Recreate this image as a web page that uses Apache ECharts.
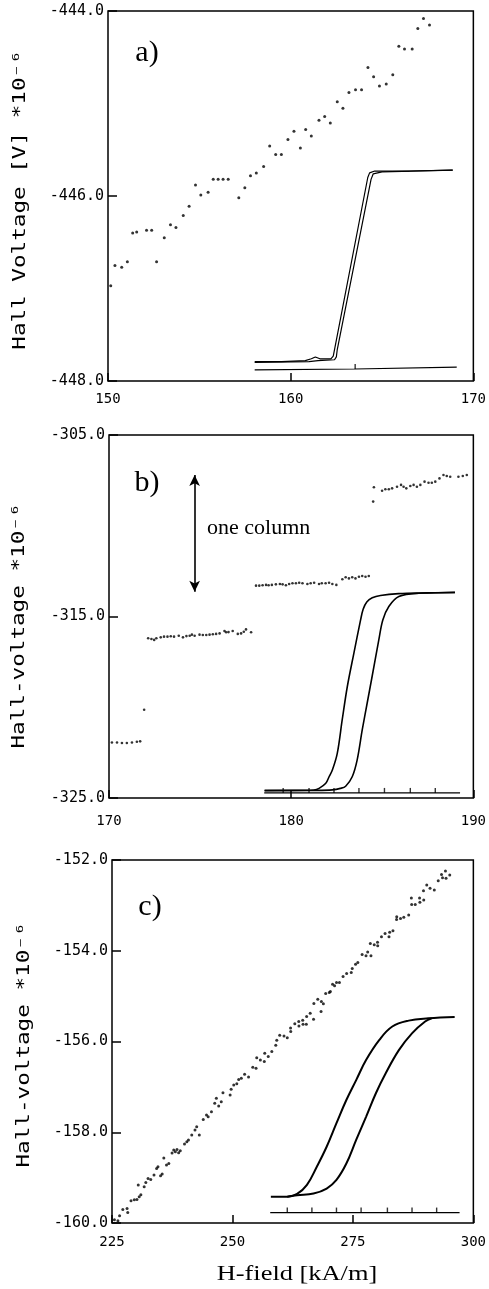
<!DOCTYPE html>
<html>
<head>
<meta charset="utf-8">
<script src="https://cdn.jsdelivr.net/npm/echarts@6/dist/echarts.min.js"></script>
<style>
html,body{margin:0;padding:0;background:#fff;}
#chart{width:489px;height:1289px;}
</style>
</head>
<body>
<div id="chart"></div>
<script>
// ---------------- DATA ----------------
// Panel a) : H-field [kA/m] vs Hall voltage [V]*1e-6
const aXTicks = [150, 160, 170];
const aYTicks = [-448, -446, -444];
const aPoints = [
  [150.15,-446.97],[150.38,-446.75],[150.75,-446.77],[151.06,-446.71],[151.35,-446.40],[151.57,-446.39],
  [152.11,-446.37],[152.39,-446.37],[152.66,-446.71],[153.08,-446.45],[153.42,-446.31],[153.72,-446.34],
  [154.12,-446.21],[154.44,-446.11],[154.79,-445.88],[155.08,-445.99],[155.48,-445.96],[155.76,-445.82],
  [156.03,-445.82],[156.30,-445.82],[156.58,-445.82],[157.16,-446.02],[157.49,-445.91],[157.80,-445.78],
  [158.12,-445.75],[158.52,-445.68],[158.85,-445.46],[159.18,-445.55],[159.49,-445.55],[159.85,-445.39],
  [160.18,-445.30],[160.53,-445.48],[160.82,-445.28],[161.13,-445.35],[161.55,-445.18],[161.86,-445.14],
  [162.17,-445.21],[162.55,-444.98],[162.86,-445.05],[163.19,-444.88],[163.55,-444.85],[163.88,-444.85],
  [164.23,-444.61],[164.54,-444.71],[164.86,-444.81],[165.23,-444.79],[165.59,-444.69],[165.92,-444.38],
  [166.23,-444.41],[166.65,-444.41],[166.96,-444.19],[167.27,-444.08],[167.60,-444.15]
];
const aLoopUp = [
  [158.03,-447.79],[159.5,-447.79],[160.8,-447.78],[161.13,-447.76],[161.35,-447.74],[161.6,-447.76],
  [162.2,-447.76],[162.33,-447.73],[162.40,-447.66],[164.22,-445.80],[164.32,-445.75],[164.6,-445.73],
  [166.5,-445.73],[168.87,-445.72]
];
const aLoopDown = [
  [158.03,-447.80],[161.0,-447.79],[161.5,-447.78],[162.4,-447.77],[162.50,-447.74],[162.55,-447.66],
  [164.40,-445.82],[164.52,-445.76],[165.0,-445.74],[168.87,-445.72]
];
const aInsetAxis = [[158.03,-447.88],[163.5,-447.87],[169.09,-447.85]];
const aInsetTicks = [[163.53,-447.87]];

// Panel b)
const bXTicks = [170, 180, 190];
const bYTicks = [-325, -315, -305];
const bColumn1 = [
  [170.16,-321.94],[170.44,-321.94],[170.71,-321.97],[170.98,-321.97],[171.26,-321.94],[171.53,-321.90],
  [171.71,-321.88],[171.93,-320.14]
];
const bColumn2 = [
  [172.15,-316.20],[172.33,-316.24],[172.48,-316.29],[172.60,-316.20],[172.84,-316.15],[173.02,-316.11],
  [173.21,-316.11],[173.39,-316.09],[173.57,-316.11],[173.83,-316.06],[174.06,-316.15],[174.25,-316.08],
  [174.43,-316.06],[174.55,-316.00],[174.70,-316.06],[174.97,-316.00],[175.15,-316.02],[175.34,-316.02],
  [175.52,-316.00],[175.70,-315.98],[175.88,-315.96],[176.07,-315.93],[176.34,-315.80],[176.43,-315.87],
  [176.56,-315.86],[176.79,-315.80],[177.07,-315.96],[177.25,-315.93],[177.40,-315.84],[177.52,-315.71],
  [177.80,-315.87]
];
const bColumn3 = [
  [178.07,-313.30],[178.25,-313.30],[178.43,-313.28],[178.62,-313.26],[178.76,-313.28],[178.94,-313.26],
  [179.16,-313.23],[179.38,-313.21],[179.53,-313.23],[179.71,-313.28],[179.89,-313.21],[180.07,-313.17],
  [180.26,-313.17],[180.44,-313.14],[180.62,-313.17],[180.89,-313.21],[181.07,-313.17],[181.26,-313.14],
  [181.53,-313.21],[181.68,-313.17],[181.89,-313.17],[182.08,-313.14],[182.26,-313.21],[182.48,-313.26],
  [182.81,-312.95],[182.99,-312.84],[183.17,-312.90],[183.35,-312.84],[183.53,-312.90],[183.72,-312.81],
  [183.90,-312.77],[184.08,-312.81],[184.26,-312.77]
];
const bColumn4 = [
  [184.50,-308.67],[184.54,-307.88],[184.99,-308.07],[185.17,-307.99],[185.36,-307.99],[185.54,-307.94],
  [185.81,-307.85],[186.03,-307.75],[186.17,-307.85],[186.32,-307.94],[186.54,-307.81],[186.72,-307.75],
  [186.90,-307.85],[187.09,-307.75],[187.32,-307.57],[187.54,-307.63],[187.72,-307.63],[187.91,-307.57],
  [188.14,-307.39],[188.36,-307.20],[188.54,-307.26],[188.73,-307.30],[189.18,-307.30],[189.42,-307.26],
  [189.64,-307.20]
];
const bLoopUp = [
  [178.54,-324.58],[180.2,-324.58],[181.26,-324.56],[181.53,-324.47],[181.90,-324.19],[182.08,-323.83],
  [182.26,-323.46],[182.53,-322.54],[182.80,-320.70],[183.08,-318.87],[183.44,-317.03],[183.81,-315.19],
  [183.95,-314.60],[184.15,-314.20],[184.45,-313.97],[184.9,-313.84],[185.9,-313.74],[187.5,-313.70],
  [188.99,-313.67]
];
const bLoopDown = [
  [178.54,-324.60],[181.26,-324.58],[182.26,-324.55],[182.70,-324.47],[182.99,-324.35],[183.35,-323.83],
  [183.62,-322.91],[183.90,-321.25],[184.17,-319.78],[184.44,-318.32],[184.81,-316.29],[185.03,-315.19],
  [185.36,-314.45],[185.91,-313.90],[187.0,-313.72],[188.99,-313.68]
];
const bInsetAxis = [[178.52,-324.72],[189.27,-324.72]];
const bInsetTicks = [[179.56,-324.72],[180.98,-324.72],[182.35,-324.72],[183.72,-324.72],[185.12,-324.72],[186.54,-324.72],[187.91,-324.72]];
const bArrow = [[174.7,-307.2],[174.7,-313.63]];

// Panel c)
const cXTicks = [225, 250, 275, 300];
const cYTicks = [-160, -158, -156, -154, -152];
const cPoints = [
  [225.5,-159.93],[226.23,-159.95],[226.57,-159.84],[227.25,-159.70],[228.13,-159.68],[228.27,-159.77],
  [228.95,-159.51],[229.63,-159.49],[230.18,-159.48],[230.45,-159.16],[230.65,-159.42],[230.99,-159.38],
  [231.68,-159.20],[232.02,-159.11],[232.49,-159.02],[233.04,-159.04],[233.72,-158.94],[234.26,-158.80],
  [234.54,-158.76],[235.08,-158.96],[235.42,-158.92],[235.76,-158.57],[236.31,-158.72],[236.79,-158.69],
  [237.47,-158.46],[237.81,-158.39],[238.15,-158.43],[238.49,-158.38],[238.83,-158.45],[239.17,-158.41],
  [240.05,-158.26],[240.53,-158.21],[240.87,-158.17],[241.55,-158.06],[242.23,-157.95],[242.58,-157.88],
  [243.12,-158.06],[243.94,-157.72],[244.62,-157.62],[244.96,-157.66],[245.64,-157.55],[246.32,-157.36],
  [246.66,-157.25],[247.14,-157.42],[247.68,-157.33],[248.03,-157.13],[249.52,-157.18],[249.73,-157.05],
  [250.27,-156.96],[250.9,-156.93],[251.3,-156.84],[251.84,-156.81],[252.52,-156.72],[253.34,-156.78],
  [254.22,-156.57],[254.90,-156.59],[255.04,-156.36],[255.79,-156.41],[256.61,-156.44],[256.7,-156.26],
  [257.43,-156.33],[258.17,-156.22],[258.99,-156.08],[259.20,-155.97],[259.81,-155.86],[260.70,-155.88],
  [261.38,-155.92],[262.06,-155.70],[262.1,-155.78],[262.94,-155.61],[263.76,-155.56],[263.8,-155.66],
  [264.58,-155.53],[264.65,-155.62],[265.33,-155.62],[265.4,-155.45],[266.14,-155.38],[266.83,-155.51],
  [266.9,-155.16],[267.71,-155.07],[268.39,-155.34],[268.45,-155.12],[268.87,-155.17],[269.35,-154.94],
  [270.10,-154.92],[270.33,-154.90],[270.78,-154.74],[271.2,-154.77],[271.6,-154.70],[272.2,-154.70],
  [272.96,-154.57],[273.7,-154.50],[274.66,-154.48],[274.86,-154.39],[275.55,-154.30],[276.02,-154.26],
  [276.91,-154.08],[277.72,-154.11],[278.07,-154.03],[278.61,-153.84],[278.75,-154.11],[279.43,-153.87],
  [280.11,-153.81],[280.15,-153.89],[280.93,-153.69],[281.68,-153.62],[282.49,-153.69],[282.63,-153.59],
  [283.31,-153.56],[284.06,-153.31],[284.1,-153.25],[284.88,-153.29],[285.56,-153.26],[286.58,-153.21],
  [287.13,-152.84],[287.2,-152.98],[287.94,-152.98],[288.83,-152.84],[288.9,-152.93],[289.65,-152.68],
  [289.7,-152.88],[290.33,-152.55],[291.01,-152.62],[291.89,-152.66],[292.71,-152.46],[293.39,-152.32],
  [293.60,-152.39],[294.21,-152.24],[294.33,-152.40],[295.10,-152.33]
];
const cLoopUp = [
  [257.97,-159.42],[261.38,-159.42],[263.42,-159.36],[265.46,-159.16],[267.51,-158.76],[269.55,-158.32],
  [271.59,-157.80],[273.64,-157.29],[275.68,-156.85],[277.73,-156.41],[280.45,-155.97],[283.18,-155.67],
  [286.58,-155.54],[290.67,-155.49],[296.12,-155.46]
];
const cLoopDown = [
  [261.38,-159.42],[263.42,-159.39],[266.83,-159.35],[269.55,-159.24],[271.59,-159.05],[273.64,-158.69],
  [275.68,-158.17],[277.73,-157.66],[279.77,-157.14],[281.81,-156.70],[284.54,-156.19],[287.26,-155.82],
  [289.99,-155.56],[291.35,-155.49]
];
const cInsetAxis = [[257.84,-159.77],[297.14,-159.77]];
const cInsetTicks = [[261.38,-159.77],[266.49,-159.77],[271.59,-159.77],[276.70,-159.77],[282.16,-159.77],[287.27,-159.77],[292.38,-159.77]];

// ---------------- CHART ----------------
const MONO = '"DejaVu Sans Mono", monospace';
const SERIF = '"Liberation Serif", "Times New Roman", serif';
const BLACK = '#000';

function xAxisFor(gi, ticks, margin) {
  return {
    type: 'value', gridIndex: gi, min: ticks[0], max: ticks[ticks.length - 1],
    axisLine: { show: false },
    axisTick: { show: true, inside: true, length: 8, customValues: ticks, lineStyle: { color: BLACK, width: 1.5 } },
    axisLabel: { show: true, customValues: ticks, color: BLACK, fontFamily: MONO, fontSize: 14, margin: margin,
      formatter: v => String(Math.round(v)) },
    splitLine: { show: false }
  };
}
function yAxisFor(gi, ticks) {
  return {
    type: 'value', gridIndex: gi, min: ticks[0], max: ticks[ticks.length - 1],
    axisLine: { show: false },
    axisTick: { show: true, inside: true, length: 9, customValues: ticks, lineStyle: { color: BLACK, width: 1.5 } },
    axisLabel: { show: true, customValues: ticks, color: BLACK, fontFamily: MONO, fontSize: 15, margin: 4,
      formatter: v => v.toFixed(1) },
    splitLine: { show: false }
  };
}
function dots(i, data, size) {
  return { type: 'scatter', xAxisIndex: i, yAxisIndex: i, data: data, symbol: 'circle', symbolSize: size,
    itemStyle: { color: BLACK }, silent: true };
}
function curve(i, data, width, smooth) {
  return { type: 'line', xAxisIndex: i, yAxisIndex: i, data: data, showSymbol: false, symbol: 'none',
    smooth: smooth || false,
    lineStyle: { color: BLACK, width: width }, silent: true };
}
function ticksOf(i, data) {
  return { type: 'scatter', xAxisIndex: i, yAxisIndex: i, data: data, symbol: 'rect', symbolSize: [1.4, 5],
    symbolOffset: [0, -2.5], itemStyle: { color: BLACK }, silent: true };
}

const gridStyle = { show: true, borderColor: BLACK, borderWidth: 1.5, backgroundColor: 'transparent', containLabel: false };

const option = {
  animation: false,
  backgroundColor: '#fff',
  grid: [
    Object.assign({ left: 108, top: 11, width: 366, height: 370 }, gridStyle),
    Object.assign({ left: 109, top: 435, width: 366, height: 363 }, gridStyle),
    Object.assign({ left: 112, top: 860, width: 367, height: 363 }, gridStyle)
  ],
  xAxis: [xAxisFor(0, aXTicks, 11), xAxisFor(1, bXTicks, 16), xAxisFor(2, cXTicks, 12)],
  yAxis: [yAxisFor(0, aYTicks), yAxisFor(1, bYTicks), yAxisFor(2, cYTicks)],
  series: [
    dots(0, aPoints, 3),
    curve(0, aLoopUp, 1.2, false),
    curve(0, aLoopDown, 1.2, false),
    curve(0, aInsetAxis, 1.2, false),
    ticksOf(0, aInsetTicks),

    Object.assign(dots(1, bColumn1, 2.6), {
      markLine: {
        silent: true, symbol: ['arrow', 'arrow'], symbolSize: [8, 11],
        label: { show: false },
        lineStyle: { color: BLACK, width: 1.6, type: 'solid' },
        data: [[{ coord: bArrow[0] }, { coord: bArrow[1] }]]
      }
    }),
    dots(1, bColumn2, 2.6),
    dots(1, bColumn3, 2.6),
    dots(1, bColumn4, 2.6),
    curve(1, bLoopUp, 1.6, 0.35),
    curve(1, bLoopDown, 1.6, 0.35),
    curve(1, bInsetAxis, 1.2, false),
    ticksOf(1, bInsetTicks),

    dots(2, cPoints, 3),
    curve(2, cLoopUp, 2, 0.4),
    curve(2, cLoopDown, 2, 0.4),
    curve(2, cInsetAxis, 1.2, false),
    ticksOf(2, cInsetTicks)
  ],
  graphic: [
    { type: 'text', x: 21, y: 200, rotation: Math.PI / 2, scaleX: 1.33,
      style: { text: 'Hall Voltage [V] *10⁻⁶', font: '17px ' + MONO, fill: BLACK, align: 'center', verticalAlign: 'middle' } },
    { type: 'text', x: 20, y: 626, rotation: Math.PI / 2, scaleX: 1.33,
      style: { text: 'Hall-voltage *10⁻⁶', font: '17px ' + MONO, fill: BLACK, align: 'center', verticalAlign: 'middle' } },
    { type: 'text', x: 25, y: 1045, rotation: Math.PI / 2, scaleX: 1.33,
      style: { text: 'Hall-voltage *10⁻⁶', font: '17px ' + MONO, fill: BLACK, align: 'center', verticalAlign: 'middle' } },
    { type: 'text', x: 147, y: 53,
      style: { text: 'a)', font: '30px ' + SERIF, fill: BLACK, align: 'center', verticalAlign: 'middle' } },
    { type: 'text', x: 147, y: 483,
      style: { text: 'b)', font: '30px ' + SERIF, fill: BLACK, align: 'center', verticalAlign: 'middle' } },
    { type: 'text', x: 150, y: 907,
      style: { text: 'c)', font: '30px ' + SERIF, fill: BLACK, align: 'center', verticalAlign: 'middle' } },
    { type: 'text', x: 207, y: 528,
      style: { text: 'one column', font: '22px ' + SERIF, fill: BLACK, align: 'left', verticalAlign: 'middle' } },
    { type: 'text', x: 297, y: 1274, scaleX: 1.2,
      style: { text: 'H-field [kA/m]', font: '22px ' + SERIF, fill: BLACK, align: 'center', verticalAlign: 'middle' } }
  ]
};

const chart = echarts.init(document.getElementById('chart'), null, { renderer: 'canvas' });
chart.setOption(option);
</script>
</body>
</html>
